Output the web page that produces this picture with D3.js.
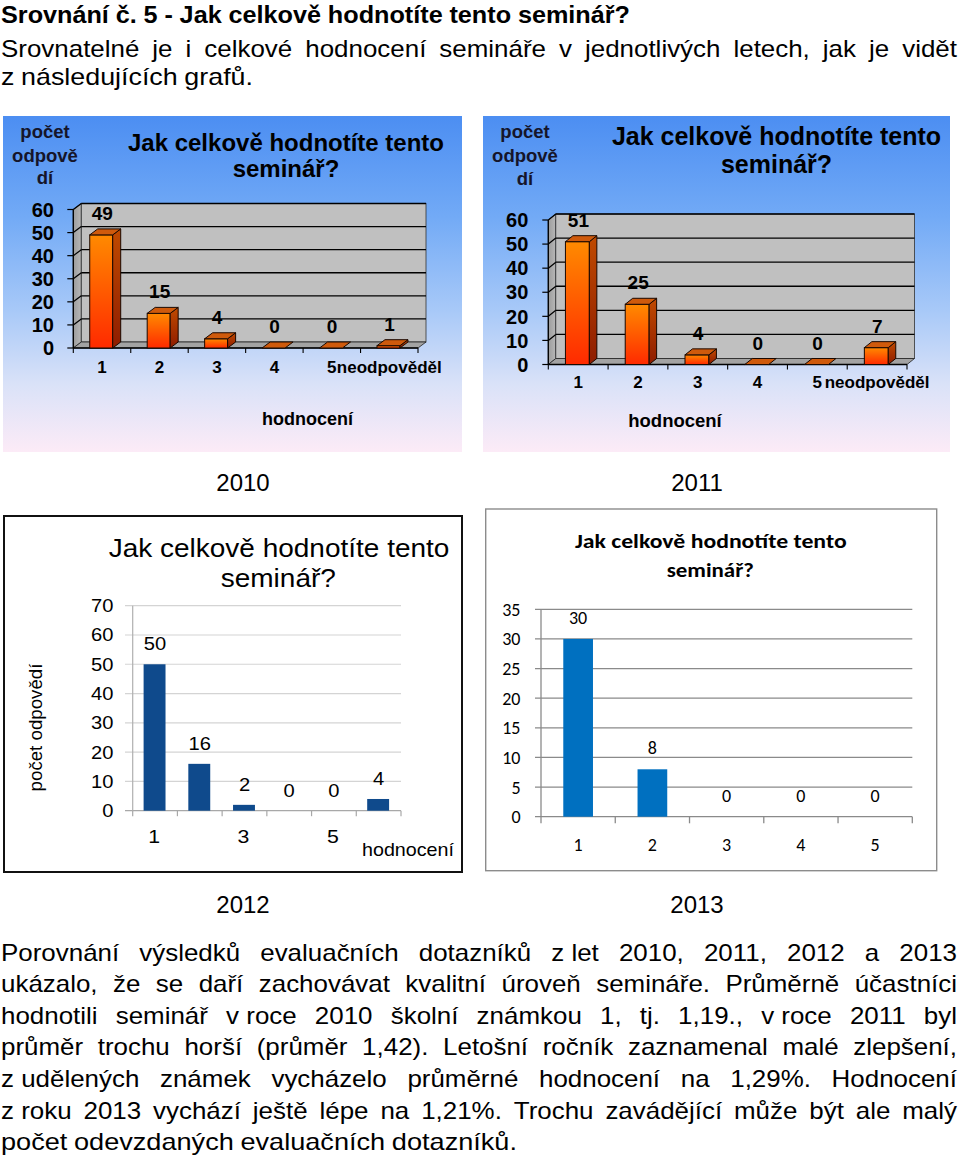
<!DOCTYPE html>
<html><head><meta charset="utf-8">
<script src="https://cdn.jsdelivr.net/npm/d3@7"></script>
<style>
html,body{margin:0;padding:0;background:#fff;}
svg{display:block;}
</style></head><body>
<svg id="page" width="960" height="1156"></svg>
<script>
// ---------------- DATA ----------------
const categories3D = ["1","2","3","4","5","neodpověděl"];
const values2010 = [49,15,4,0,0,1];
const values2011 = [51,25,4,0,0,7];
const ticks3D = [0,10,20,30,40,50,60];

const categories2012 = ["1","2","3","4","5","neodpověděl"];
const tickLabels2012 = ["1","","3","","5",""];
const values2012 = [50,16,2,0,0,4];
const ticks2012 = [0,10,20,30,40,50,60,70];

const categories2013 = ["1","2","3","4","5"];
const values2013 = [30,8,0,0,0];
const ticks2013 = [0,5,10,15,20,25,30,35];

const years = ["2010","2011","2012","2013"];
const chartTitle = ["Jak celkově hodnotíte tento","seminář?"];
const yAxisTitle3D = ["počet","odpově","dí"];
const yAxisTitle = "počet odpovědí";
const xAxisTitle = "hodnocení";

const headingText = "Srovnání č. 5 - Jak celkově hodnotíte tento seminář?";
const introLines = [
  "Srovnatelné je i celkové hodnocení semináře v jednotlivých letech, jak je vidět",
  "z následujících grafů."
];
const paragraphLines = [
  "Porovnání výsledků evaluačních dotazníků z\u00a0let 2010, 2011, 2012 a 2013",
  "ukázalo, že se daří zachovávat kvalitní úroveň semináře. Průměrně účastníci",
  "hodnotili seminář v\u00a0roce 2010 školní známkou 1, tj. 1,19., v\u00a0roce 2011 byl",
  "průměr trochu horší (průměr 1,42). Letošní ročník zaznamenal malé zlepšení,",
  "z\u00a0udělených známek vycházelo průměrné hodnocení na 1,29%. Hodnocení",
  "z\u00a0roku 2013 vychází ještě lépe na 1,21%. Trochu zavádějící může být ale malý",
  "počet odevzdaných evaluačních dotazníků."
];

// ---------------- SETUP ----------------
const ARIAL = "'Liberation Sans', Arial, Helvetica, sans-serif";
const CALIBRI = "Carlito, Calibri, Lato, 'Open Sans', sans-serif";
const svg = d3.select("#page");
const defs = svg.append("defs");

function linGrad(id, stops, x2 = 0, y2 = 1) {
  const g = defs.append("linearGradient").attr("id", id)
    .attr("x1", 0).attr("y1", 0).attr("x2", x2).attr("y2", y2);
  stops.forEach(([o, c]) => g.append("stop").attr("offset", o).attr("stop-color", c));
}
linGrad("bg3d", [[0, "#4c8ef2"], [0.3, "#72aaf6"], [0.58, "#a8c9f8"], [0.8, "#dae2f8"], [1, "#fcebf7"]]);
linGrad("barFront", [[0, "#ff8a00"], [1, "#ff2a00"]]);
linGrad("barSide", [[0, "#c04a00"], [1, "#8e1c00"]]);
linGrad("leftWall", [[0, "#9c9c9c"], [1, "#b8b8b8"]], 1, 0);

// text helpers
function textLine(g, str, x0, y, fs, weight, mode, target, gs = 1) {
  // mode "justify": words (glyphs widened by gs) spread to fill [x0, target]
  // mode "fit": natural gaps, whole line scaled to end at target
  const words = str.split(" ");
  const nodes = words.map(w => g.append("text").attr("y", y)
    .attr("font-family", ARIAL).attr("font-size", fs).attr("font-weight", weight)
    .attr("fill", "#000").text(w));
  const widths = nodes.map(n => n.node().getComputedTextLength());
  const total = d3.sum(widths);
  const space = fs * 0.278;
  const span = target - x0;
  let gap = space, scale = gs;
  if (mode === "justify" && words.length > 1) {
    gap = (span - total * gs) / (words.length - 1);
    if (gap < fs * 0.2) { gap = fs * 0.2; scale = (span - gap * (words.length - 1)) / total; }
  } else {
    scale = (span - space * (words.length - 1)) / total;
  }
  let x = x0;
  nodes.forEach((n, i) => {
    n.attr("x", x);
    if (Math.abs(scale - 1) > 0.002) n.attr("textLength", widths[i] * scale).attr("lengthAdjust", "spacingAndGlyphs");
    x += widths[i] * scale + gap;
  });
}

// ---------------- PAGE TEXT ----------------
const txt = svg.append("g");
textLine(txt, headingText, 1, 22.5, 24.5, "bold", "fit", 630);
textLine(txt, introLines[0], 1, 57, 24, "normal", "justify", 957, 1.08);
textLine(txt, introLines[1], 1, 85.3, 24, "normal", "fit", 253);
paragraphLines.forEach((l, i) => {
  const last = i === paragraphLines.length - 1;
  textLine(txt, l, 1, 960.5 + i * 31.6, 24, "normal", last ? "fit" : "justify", last ? 517 : 957, 1.08);
});

// years
const yearPos = [[243, 490.5], [697, 490.5], [243, 912.5], [697, 912.5]];
years.forEach((yr, i) => {
  svg.append("text").attr("x", yearPos[i][0]).attr("y", yearPos[i][1])
    .attr("text-anchor", "middle").attr("font-family", ARIAL).attr("font-size", 24)
    .attr("fill", "#000").text(yr);
});

// ---------------- 3D CHARTS (2010, 2011) ----------------
function chart3D(cfg, values) {
  const g = svg.append("g").attr("font-family", ARIAL).attr("fill", "#000");
  const b = cfg.box;
  g.append("rect").attr("x", b.x).attr("y", b.y).attr("width", b.w).attr("height", b.h).attr("fill", "url(#bg3d)");

  const x = d3.scaleBand().domain(categories3D).range([cfg.x0, cfg.x1]);
  const y = d3.scaleLinear().domain([0, 60]).range([cfg.yZero, cfg.yTop]);
  const dx = cfg.dx, dy = cfg.dy;
  const X0 = cfg.x0, X1 = cfg.x1, Y0 = y(0), YT = y(60);
  const pts = a => a.map(p => p.join(",")).join(" ");

  // walls
  g.append("polygon").attr("points", pts([[X0, YT], [X0 + dx, YT + dy], [X0 + dx, Y0 + dy], [X0, Y0]]))
    .attr("fill", "url(#leftWall)").attr("stroke", "#222").attr("stroke-width", 0.8);
  g.append("rect").attr("x", X0 + dx).attr("y", YT + dy).attr("width", X1 - X0).attr("height", Y0 - YT)
    .attr("fill", "#c0c0c0").attr("stroke", "#333").attr("stroke-width", 0.8);
  g.append("polygon").attr("points", pts([[X0, Y0], [X1, Y0], [X1 + dx, Y0 + dy], [X0 + dx, Y0 + dy]]))
    .attr("fill", "#a3a3a3").attr("stroke", "#222").attr("stroke-width", 0.8);

  // gridlines
  ticks3D.forEach(t => {
    if (t === 0) return;
    g.append("line").attr("x1", X0 + dx).attr("x2", X1 + dx).attr("y1", y(t) + dy).attr("y2", y(t) + dy)
      .attr("stroke", "#000").attr("stroke-width", 1.4);
    g.append("line").attr("x1", X0).attr("x2", X0 + dx).attr("y1", y(t)).attr("y2", y(t) + dy)
      .attr("stroke", "#000").attr("stroke-width", 1.2);
  });

  // front axes
  g.append("line").attr("x1", X0).attr("x2", X0).attr("y1", YT).attr("y2", Y0).attr("stroke", "#000").attr("stroke-width", 1.3);
  g.append("line").attr("x1", X0).attr("x2", X1).attr("y1", Y0).attr("y2", Y0).attr("stroke", "#000").attr("stroke-width", 1.3);
  ticks3D.forEach(t => {
    g.append("line").attr("x1", X0 - 6).attr("x2", X0).attr("y1", y(t)).attr("y2", y(t)).attr("stroke", "#000").attr("stroke-width", 1.2);
    g.append("text").attr("x", cfg.tickRight).attr("y", y(t)).attr("dy", "0.36em")
      .attr("text-anchor", "end").attr("font-size", 20).attr("font-weight", "bold").text(t);
  });
  const bounds = categories3D.map(c => x(c)).concat([X1]);
  bounds.forEach(bx => g.append("line").attr("x1", bx).attr("x2", bx).attr("y1", Y0).attr("y2", Y0 + 5)
    .attr("stroke", "#000").attr("stroke-width", 1.1));

  // bars
  const bw = x.bandwidth() * 0.4;
  categories3D.forEach((c, i) => {
    const v = values[i];
    const cx = x(c) + x.bandwidth() / 2 - 0.8;
    const xl = cx - bw / 2, xr = cx + bw / 2;
    const yt = y(v);
    if (v > 0) {
      g.append("rect").attr("x", xl).attr("y", yt).attr("width", bw).attr("height", Y0 - yt)
        .attr("fill", "url(#barFront)").attr("stroke", "#1a0800").attr("stroke-width", 1);
      g.append("polygon").attr("points", pts([[xr, yt], [xr + dx, yt + dy], [xr + dx, Y0 + dy], [xr, Y0]]))
        .attr("fill", "url(#barSide)").attr("stroke", "#1a0800").attr("stroke-width", 1);
    }
    g.append("polygon").attr("points", pts([[xl, yt], [xr, yt], [xr + dx, yt + dy], [xl + dx, yt + dy]]))
      .attr("fill", "#cf5a0c").attr("stroke", "#1a0800").attr("stroke-width", 1);
    g.append("text").attr("x", cx + 1).attr("y", yt + dy - 9).attr("text-anchor", "middle")
      .attr("font-size", 19).attr("font-weight", "bold").text(v);
  });

  // x labels
  categories3D.forEach(c => {
    g.append("text").attr("x", x(c) + x.bandwidth() / 2).attr("y", cfg.xLabelY).attr("text-anchor", "middle")
      .attr("font-size", 17).attr("font-weight", "bold").text(c);
  });

  // titles
  chartTitle.forEach((t, i) => g.append("text").attr("x", cfg.titleX).attr("y", cfg.titleY[i])
    .attr("text-anchor", "middle").attr("font-size", cfg.titleFs).attr("font-weight", "bold").text(t));
  yAxisTitle3D.forEach((t, i) => g.append("text").attr("x", cfg.pocetX).attr("y", cfg.pocetY[i])
    .attr("text-anchor", "middle").attr("font-size", 18.5).attr("font-weight", "bold").attr("fill", "#15152a").text(t));
  g.append("text").attr("x", cfg.hodX).attr("y", cfg.hodY).attr("text-anchor", "middle")
    .attr("font-size", cfg.hodFs).attr("font-weight", "bold").text(xAxisTitle);
}

chart3D({
  box: {x: 3, y: 116, w: 459, h: 336},
  x0: 73.3, x1: 418, yZero: 348, yTop: 209.5, dx: 8, dy: -6, tickRight: 54,
  titleX: 286, titleY: [150.7, 176.7], titleFs: 24,
  pocetX: 45, pocetY: [138, 161.5, 184],
  xLabelY: 373.3, hodX: 307.5, hodY: 425, hodFs: 18
}, values2010);

chart3D({
  box: {x: 483, y: 116, w: 467, h: 336},
  x0: 548.3, x1: 907, yZero: 364.5, yTop: 220, dx: 7.5, dy: -6, tickRight: 528.3,
  titleX: 776.5, titleY: [145, 172.7], titleFs: 25,
  pocetX: 525, pocetY: [138, 162, 185],
  xLabelY: 388.3, hodX: 675, hodY: 426.7, hodFs: 18.5
}, values2011);

// ---------------- 2012 CHART ----------------
(function () {
  const g = svg.append("g").attr("font-family", ARIAL).attr("fill", "#000");
  const SX = 1.12;
  const sText = (x, y, s, fs, anchor) => g.append("text")
    .attr("transform", `translate(${x},${y}) scale(${SX},1)`).attr("text-anchor", anchor)
    .attr("font-size", fs).text(s);
  g.append("rect").attr("x", 4).attr("y", 516).attr("width", 458).attr("height", 356)
    .attr("fill", "#fff").attr("stroke", "#111").attr("stroke-width", 2);
  const x = d3.scaleBand().domain(categories2012).range([132.7, 401]);
  const y = d3.scaleLinear().domain([0, 70]).range([810.7, 605.7]);
  ticks2012.forEach(t => {
    g.append("line").attr("x1", 125).attr("x2", 401).attr("y1", y(t)).attr("y2", y(t))
      .attr("stroke", t === 0 ? "#a8a8a8" : "#d4d4d4").attr("stroke-width", 1.2);
    sText(113.5, y(t) + 6.5, t, 18, "end");
  });
  g.append("line").attr("x1", 132.7).attr("x2", 132.7).attr("y1", y(70)).attr("y2", y(0))
    .attr("stroke", "#b0b0b0").attr("stroke-width", 1.2);
  categories2012.map(c => x(c)).concat([401]).forEach(bx =>
    g.append("line").attr("x1", bx).attr("x2", bx).attr("y1", y(0)).attr("y2", y(0) + 5.5)
      .attr("stroke", "#a8a8a8").attr("stroke-width", 1.2));
  const bw = x.bandwidth() * 0.49;
  categories2012.forEach((c, i) => {
    const cx = x(c) + x.bandwidth() / 2 - 0.5;
    const v = values2012[i];
    if (v > 0) g.append("rect").attr("x", cx - bw / 2).attr("y", y(v)).attr("width", bw).attr("height", y(0) - y(v))
      .attr("fill", "#0f4a8c");
    sText(cx + 0.5, y(v) - 14, v, 18, "middle");
    if (tickLabels2012[i]) sText(x(c) + x.bandwidth() / 2 - 1, 842.7, tickLabels2012[i], 19, "middle");
  });
  sText(279, 556.7, chartTitle[0], 25, "middle");
  sText(278.3, 587.3, chartTitle[1], 25, "middle");
  sText(408, 856, xAxisTitle, 17.6, "middle");
  g.append("text").attr("transform", "translate(41.5,727.5) rotate(-90)").attr("text-anchor", "middle")
    .attr("font-size", 18.7).text(yAxisTitle);
})();

// ---------------- 2013 CHART ----------------
(function () {
  const g = svg.append("g").attr("font-family", CALIBRI).attr("fill", "#000");
  g.append("rect").attr("x", 485.7).attr("y", 509).attr("width", 451).attr("height", 361.7)
    .attr("fill", "#fff").attr("stroke", "#8c8c8c").attr("stroke-width", 1.4);
  const x = d3.scaleBand().domain(categories2013).range([541, 912.3]);
  const y = d3.scaleLinear().domain([0, 35]).range([816.7, 609.3]);
  ticks2013.forEach(t => {
    g.append("line").attr("x1", 535).attr("x2", 912.3).attr("y1", y(t)).attr("y2", y(t))
      .attr("stroke", "#8a8a8a").attr("stroke-width", 1.3);
    g.append("text").attr("x", 520.5).attr("y", y(t) + 6.5).attr("text-anchor", "end")
      .attr("font-size", 18).text(t);
  });
  g.append("line").attr("x1", 541).attr("x2", 541).attr("y1", y(35)).attr("y2", y(0))
    .attr("stroke", "#8a8a8a").attr("stroke-width", 1.3);
  categories2013.map(c => x(c)).concat([912.3]).forEach(bx =>
    g.append("line").attr("x1", bx).attr("x2", bx).attr("y1", y(0)).attr("y2", y(0) + 6.6)
      .attr("stroke", "#8a8a8a").attr("stroke-width", 1.3));
  const bw = x.bandwidth() * 0.4;
  categories2013.forEach((c, i) => {
    const cx = x(c) + x.bandwidth() / 2;
    const v = values2013[i];
    if (v > 0) g.append("rect").attr("x", cx - bw / 2).attr("y", y(v)).attr("width", bw).attr("height", y(0) - y(v))
      .attr("fill", "#0070c0");
    g.append("text").attr("x", cx).attr("y", y(v) - 14.8).attr("text-anchor", "middle").attr("font-size", 18).text(v);
    g.append("text").attr("x", cx).attr("y", 851).attr("text-anchor", "middle").attr("font-size", 18).text(c);
  });
  g.append("text").attr("x", 710.8).attr("y", 548.3).attr("text-anchor", "middle").attr("font-size", 20)
    .attr("font-weight", "bold").attr("textLength", 271.7).attr("lengthAdjust", "spacingAndGlyphs").text(chartTitle[0]);
  g.append("text").attr("x", 710.3).attr("y", 576.7).attr("text-anchor", "middle").attr("font-size", 20)
    .attr("font-weight", "bold").attr("textLength", 87.3).attr("lengthAdjust", "spacingAndGlyphs").text(chartTitle[1]);
})();
</script>
</body></html>
